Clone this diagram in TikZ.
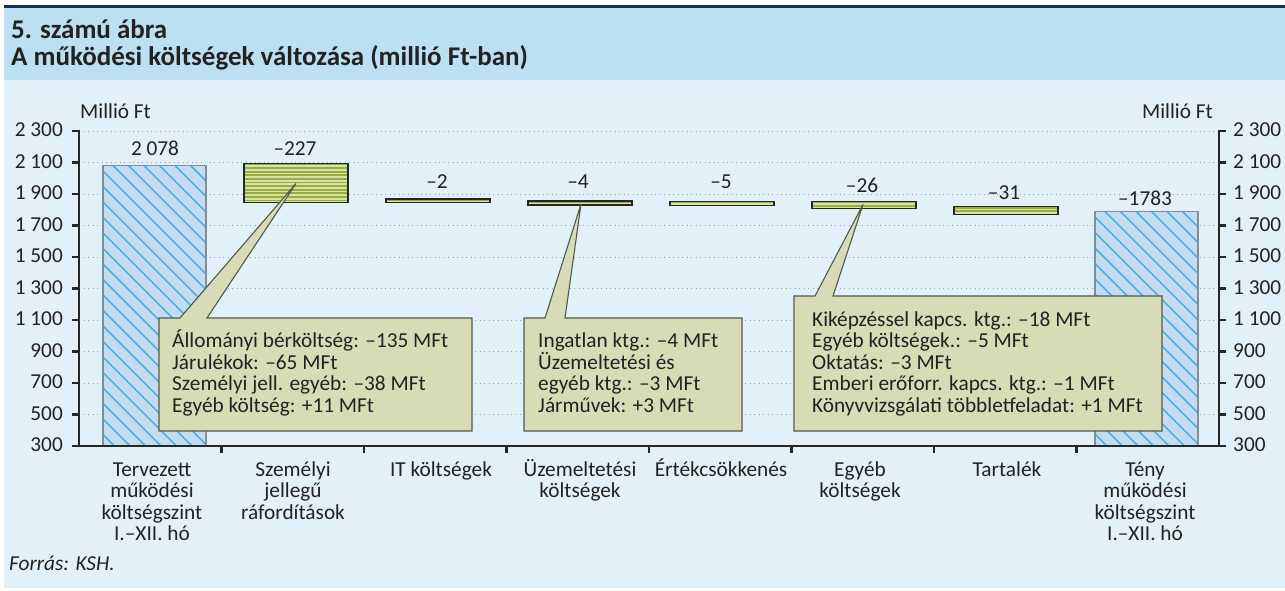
\documentclass[tikz,border=0pt]{standalone}
\usepackage{fontspec}
\setmainfont{Carlito}
\definecolor{navy}{HTML}{172B5C}
\definecolor{headbg}{HTML}{BCDFF2}
\definecolor{bodybg}{HTML}{E1F0F9}
\definecolor{txt}{HTML}{222222}
\definecolor{gridgray}{HTML}{9AA3AB}
\definecolor{axisblack}{HTML}{262626}
\definecolor{hfill}{HTML}{C4DCF0}
\definecolor{hline}{HTML}{4FB0E0}
\definecolor{hborder}{HTML}{7E8E9E}
\definecolor{sdark}{HTML}{97AD3C}
\definecolor{slight}{HTML}{D8E1A7}
\definecolor{callfill}{HTML}{D7DCB7}
\definecolor{callborder}{HTML}{55574A}
\newcommand\hatchbar[5]{%
  \fill[hatchfill] (#2,#3) rectangle (#4,#5);
  \begin{scope}
    \clip (#2,#3) rectangle (#4,#5);
    \foreach \k in {0,...,27} \draw[hatchline] ({#2-300+\k*15.5},#3) -- ++(300,300);
  \end{scope}
  \draw[hatchborder] (#2,#3) rectangle (#4,#5);
  \coordinate (#1) at ({(#2+#4)/2},#3);
}
\newcommand\stripebar[5]{%
  \fill[stripelight] (#2,#3) rectangle (#4,#5);
  \begin{scope}
    \clip (#2,#3) rectangle (#4,#5);
    \foreach \k in {0,...,11} \draw[stripedark] (#2,{#3+1+\k*3.6}) -- (#4,{#3+1+\k*3.6});
  \end{scope}
  \draw[stripeborder] (#2,#3) rectangle (#4,#5);
  \coordinate (#1) at ({(#2+#4)/2},#3);
}
\begin{document}
\begin{tikzpicture}[x=1pt,y=-1pt,
  lbl/.style={font=\fontsize{21.3}{21.5}\selectfont, text=txt, inner sep=0pt},
  ttl/.style={font=\bfseries\fontsize{27}{27.5}\selectfont, text=txt, inner sep=0pt},
  gridln/.style={draw=gridgray, line width=1pt, dash pattern=on 1.4pt off 3.1pt},
  axisln/.style={draw=axisblack, line width=2.4pt},
  tickln/.style={draw=axisblack, line width=2.2pt},
  hatchfill/.style={fill=hfill},
  hatchline/.style={draw=hline, line width=1.6pt},
  hatchborder/.style={draw=hborder, line width=1.1pt},
  stripelight/.style={fill=slight},
  stripedark/.style={draw=sdark, line width=1.9pt},
  stripeborder/.style={draw=axisblack, line width=1.2pt},
  callout/.style={fill=callfill, draw=callborder, line width=1.1pt, line join=miter},
  calltext/.style={lbl, align=left, anchor=north west},
  cattext/.style={lbl, align=center, anchor=north}
]
\useasboundingbox (0,0) rectangle (1285,590);
% background
\fill[white] (0,0) rectangle (1285,590);
\fill[bodybg] (4,80) rectangle (1285,588);
\fill[headbg] (4,8) rectangle (1285,80);
\fill[navy] (4,5) rectangle (1285,8);
% titles
\node[ttl, anchor=base west] (title1) at (11,38) {5. számú ábra};
\node[ttl, anchor=base west] (title2) at (11,65.5) {A működési költségek változása (millió Ft-ban)};
% units
\node[lbl, anchor=base west] (unitl) at (80,118) {Millió Ft};
\node[lbl, anchor=base east] (unitr) at (1213,118) {Millió Ft};
% gridlines
\foreach \v in {500,700,...,2300} {
  \pgfmathsetmacro\yy{446-(\v-300)*0.1575}
  \draw[gridln] (79,\yy) -- (1219,\yy);
}
% bars
\hatchbar{b1}{103}{165.5}{206}{446}
\stripebar{b2}{244}{163.5}{348}{202.5}
\stripebar{b3}{386}{199}{490}{202.6}
\stripebar{b4}{528}{201}{632}{205}
\stripebar{b5}{670}{201.5}{774}{205.5}
\stripebar{b6}{812}{201.5}{916}{208.3}
\stripebar{b7}{954}{206.7}{1058}{214.3}
\hatchbar{b8}{1095}{211.5}{1198}{446}
% value labels
\node[lbl, anchor=base] (v1) at (155,155) {2~078};
\node[lbl, anchor=base] (v2) at (295,155) {–227};
\node[lbl, anchor=base] (v3) at (437,188) {–2};
\node[lbl, anchor=base] (v4) at (578,188) {–4};
\node[lbl, anchor=base] (v5) at (721,188) {–5};
\node[lbl, anchor=base] (v6) at (862,192) {–26};
\node[lbl, anchor=base] (v7) at (1004,199) {–31};
\node[lbl, anchor=base] (v8) at (1145,205) {–1783};
% callouts
\coordinate (tip1) at (296,183.5);
\coordinate (tip2) at (581,204);
\coordinate (tip3) at (863,204.5);
\draw[callout] (159,318) -- (180,318) -- (tip1) -- (207,318) -- (472,318) -- (472,431) -- (159,431) -- cycle;
\draw[callout] (524,318) -- (545,318) -- (tip2) -- (565,318) -- (742,318) -- (742,431) -- (524,431) -- cycle;
\draw[callout] (794,296) -- (815,296) -- (tip3) -- (833,296) -- (1162,296) -- (1162,431) -- (794,431) -- cycle;
\node[calltext] (c1) at (172,329.5) {\rule{0pt}{18pt}Állományi bérköltség: –135 MFt\\Járulékok: –65 MFt\\Személyi jell. egyéb: –38 MFt\\Egyéb költség: +11 MFt};
\node[calltext] (c2) at (538,329.5) {\rule{0pt}{18pt}Ingatlan ktg.: –4 MFt\\Üzemeltetési és\\egyéb ktg.: –3 MFt\\Járművek: +3 MFt};
\node[calltext] (c3) at (812,308) {\rule{0pt}{18pt}Kiképzéssel kapcs. ktg.: –18 MFt\\Egyéb költségek.: –5 MFt\\Oktatás: –3 MFt\\Emberi erőforr. kapcs. ktg.: –1 MFt\\Könyvvizsgálati többletfeladat: +1 MFt};
% axes
\draw[axisln] (79,130) -- (79,446) -- (1219,446) -- (1219,130);
\foreach \v/\t [count=\i] in {300/300,500/500,700/700,900/900,1100/1~100,1300/1~300,1500/1~500,1700/1~700,1900/1~900,2100/2~100,2300/2~300} {
  \pgfmathsetmacro\yy{446-(\v-300)*0.1575}
  \draw[tickln] (72,\yy) -- (79,\yy);
  \draw[tickln] (1219,\yy) -- (1226,\yy);
  \node[lbl, anchor=base east] (yl\i) at (63,\yy+5.8) {\t};
  \node[lbl, anchor=base west] (yr\i) at (1233,\yy+5.8) {\t};
}
\foreach \i in {1,...,7} {
  \draw[tickln] ({79+142.5*\i},446) -- ({79+142.5*\i},452.5);
}
% category labels
\node[cattext] (k1) at (152,458) {\rule{0pt}{18pt}Tervezett\\működési\\költségszint\\I.–XII. hó};
\node[cattext] (k2) at (293,458) {\rule{0pt}{18pt}Személyi\\jellegű\\ráfordítások};
\node[cattext] (k3) at (441,458) {\rule{0pt}{18pt}IT költségek};
\node[cattext] (k4) at (580,458) {\rule{0pt}{18pt}Üzemeltetési\\költségek};
\node[cattext] (k5) at (721,458) {\rule{0pt}{18pt}Értékcsökkenés};
\node[cattext] (k6) at (860,458) {\rule{0pt}{18pt}Egyéb\\költségek};
\node[cattext] (k7) at (1007,458) {\rule{0pt}{18pt}Tartalék};
\node[cattext] (k8) at (1145,458) {\rule{0pt}{18pt}Tény\\működési\\költségszint\\I.–XII. hó};
% source
\node[lbl, anchor=base west, font=\itshape\fontsize{21.3}{21.5}\selectfont] (src) at (9,570) {Forrás: KSH.};
\end{tikzpicture}
\end{document}
